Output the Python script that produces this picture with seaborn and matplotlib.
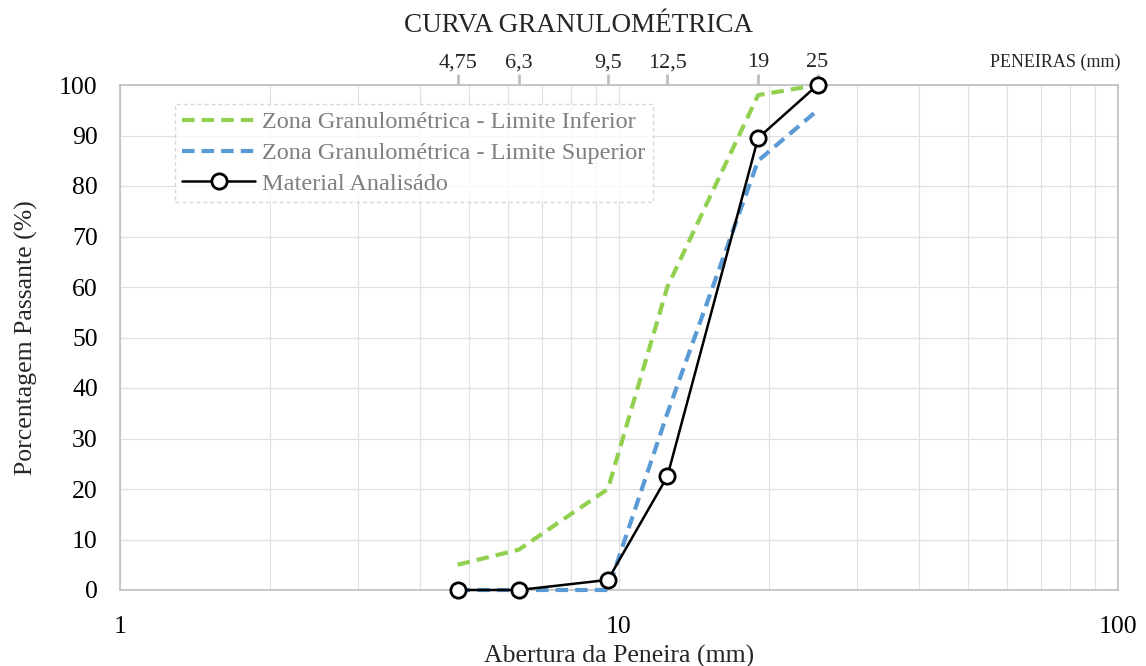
import matplotlib
matplotlib.use("Agg")
import matplotlib.pyplot as plt
import seaborn as sns
import pandas as pd
from matplotlib.ticker import FixedLocator, NullFormatter, LogLocator

sieves = [4.75, 6.3, 9.5, 12.5, 19, 25]
sieve_labels = ["4,75", "6,3", "9,5", "12,5", "19", "25"]
lower_limit = [5, 8, 20, 60, 98, 100]
upper_limit = [0, 0, 0, 35, 85, 95]
material = [0, 0, 2, 22.5, 89.5, 100]

names = ["Zona Granulométrica - Limite Inferior",
         "Zona Granulométrica - Limite Superior",
         "Material Analisádo"]

df = pd.DataFrame({
    "abertura": sieves * 3,
    "passante": lower_limit + upper_limit + material,
    "serie": [names[0]] * 6 + [names[1]] * 6 + [names[2]] * 6,
})

sns.set_theme(style="white")
plt.rcParams["font.family"] = ["Liberation Serif", "DejaVu Serif"]

fig = plt.figure(figsize=(11.46, 6.66), dpi=100)
ax = fig.add_axes([120 / 1146, 76 / 666, 998 / 1146, 505 / 666])

ax.set_xscale("log")
ax.set_xlim(1, 100)
ax.set_ylim(0, 100)

sns.lineplot(data=df[df.serie == names[0]], x="abertura", y="passante", ax=ax,
             color="#92D050", lw=3, label=names[0], zorder=3)
ax.lines[-1].set_linestyle((0, (3, 1.7)))
sns.lineplot(data=df[df.serie == names[1]], x="abertura", y="passante", ax=ax,
             color="#5B9BD5", lw=3, label=names[1], zorder=3)
ax.lines[-1].set_linestyle((0, (3, 1.7)))
sns.lineplot(data=df[df.serie == names[2]], x="abertura", y="passante", ax=ax,
             color="black", lw=1.8, marker="o", markersize=11,
             markerfacecolor="white", markeredgecolor="black", markeredgewidth=2,
             label=names[2], zorder=4)
for ln in ax.lines:
    ln.set_clip_on(False)

# grid
ax.xaxis.set_minor_locator(LogLocator(base=10, subs=range(2, 10)))
ax.xaxis.set_minor_formatter(NullFormatter())
ax.set_xticks([1, 10, 100])
ax.set_xticklabels(["1", "10", "100"])
ax.set_yticks(range(0, 101, 10))
ax.grid(True, which="both", axis="x", color="#e0e0e0", lw=0.9)
ax.grid(True, which="major", axis="y", color="#e0e0e0", lw=0.9)
ax.tick_params(axis="both", which="both", length=0, labelsize=18.5, colors="black")
ax.tick_params(axis="y", pad=16)
ax.tick_params(axis="x", pad=19)
for s in ax.spines.values():
    s.set_color("#bfbfbf")
    s.set_linewidth(1.2)

ax.set_xlabel("Abertura da Peneira (mm)", fontsize=18.5)
ax.set_ylabel("Porcentagem Passante (%)", fontsize=18.5)
ax.xaxis.set_label_coords(0.5, -0.108)
ax.yaxis.set_label_coords(-0.082, 0.5)

# top axis
top = ax.secondary_xaxis("top")
top.set_xticks(sieves)
top.set_xticklabels(sieve_labels)
top.xaxis.set_minor_locator(FixedLocator([]))
top.tick_params(axis="x", which="major", length=8, width=2, color="#bfbfbf",
                labelsize=16, pad=1, direction="out")
top.spines["top"].set_visible(False)

fig.text(0.505, 1 - 25 / 666, "CURVA GRANULOMÉTRICA", ha="center", va="center", fontsize=19.5)
fig.text(1055 / 1146, 1 - 62 / 666, "PENEIRAS (mm)", ha="center", va="center", fontsize=13)

leg = ax.legend(loc="upper left", bbox_to_anchor=(0.055, 0.962), fontsize=17.5,
                frameon=True, fancybox=False, borderpad=0.3, labelspacing=0.35,
                handlelength=3.0, handletextpad=0.3, borderaxespad=0)
frame = leg.get_frame()
frame.set_edgecolor("#d0d0d0")
frame.set_linestyle((0, (3, 2)))
frame.set_linewidth(1)
for t in leg.get_texts():
    t.set_color("#7f7f7f")

fig.savefig("out.png", dpi=100)
